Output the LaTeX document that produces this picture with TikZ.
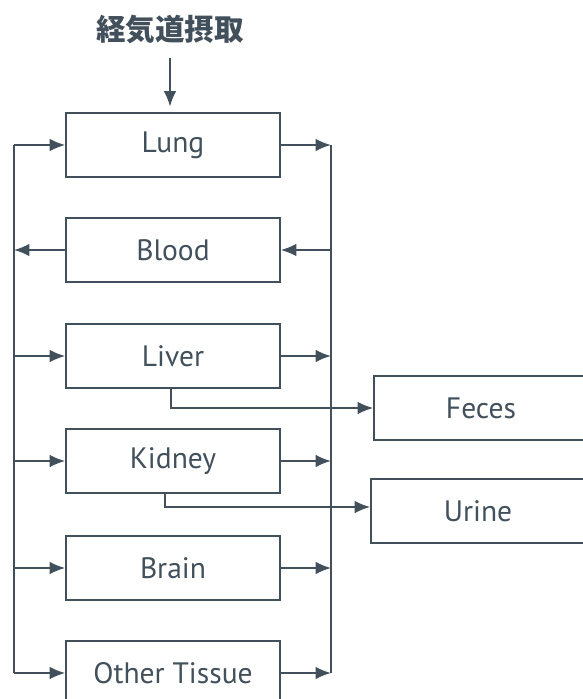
\documentclass[tikz,border=0pt]{standalone}
\usepackage{fontspec}
\setmainfont{PT Sans}
\newfontfamily\jpfont{Noto Sans CJK JP}
\usetikzlibrary{arrows.meta}
\definecolor{ink}{RGB}{66,80,92}
\tikzset{
  organ/.style={draw=ink,line width=1.2pt,minimum width=5.35cm,minimum height=1.6cm,
    text=ink,font=\fontsize{21}{25}\selectfont},
  bus/.style={draw=ink,line width=1.2pt},
  flow/.style={draw=ink,line width=1.2pt,-{Latex[length=11pt,width=9pt]}}
}

\begin{document}
\begin{tikzpicture}[x=0.025cm,y=-0.025cm]
  \path[use as bounding box] (0,0) rectangle (583,699);
  \clip (0,0) rectangle (583,699);
  % intake label
  \node[text=ink,font=\jpfont\bfseries\fontsize{21}{24}\selectfont] (intake) at (170,29) {経気道摂取};
  % organ boxes
  \foreach \n/\t/\y in {lung/Lung/145,blood/Blood/250,liver/Liver/356,
                        kidney/Kidney/461,brain/Brain/568,other/Other Tissue/673}{
    \node[organ] (\n) at (173,\y) {\t};
  }
  % excretion boxes
  \node[organ] (feces) at (481,408) {Feces};
  \node[organ] (urine) at (478,511) {Urine};
  % the two collecting lines
  \coordinate (inbus) at (14,0);
  \coordinate (outbus) at (331,0);
  \draw[bus] (inbus |- lung) -- (inbus |- other);
  \draw[bus] (outbus |- lung) -- (outbus |- other);
  % flows into and out of the organs
  \draw[flow,shorten >=4pt] ([yshift=-0.25cm]intake.south) -- (intake |- lung.north);
  \foreach \n in {lung,liver,kidney,brain,other}{
    \draw[flow] (inbus |- \n) -- (\n.west);
    \draw[flow] (\n.east) -- (outbus |- \n);
  }
  \draw[flow] (outbus |- blood) -- (blood.east);
  \draw[flow] (blood.west) -- (inbus |- blood);
  % excretion
  \draw[flow] ([xshift=-0.05cm]liver.south) |- (feces.west);
  \draw[flow] ([xshift=-0.2cm]kidney.south) |- ([yshift=0.1cm]urine.west);
\end{tikzpicture}
\end{document}
